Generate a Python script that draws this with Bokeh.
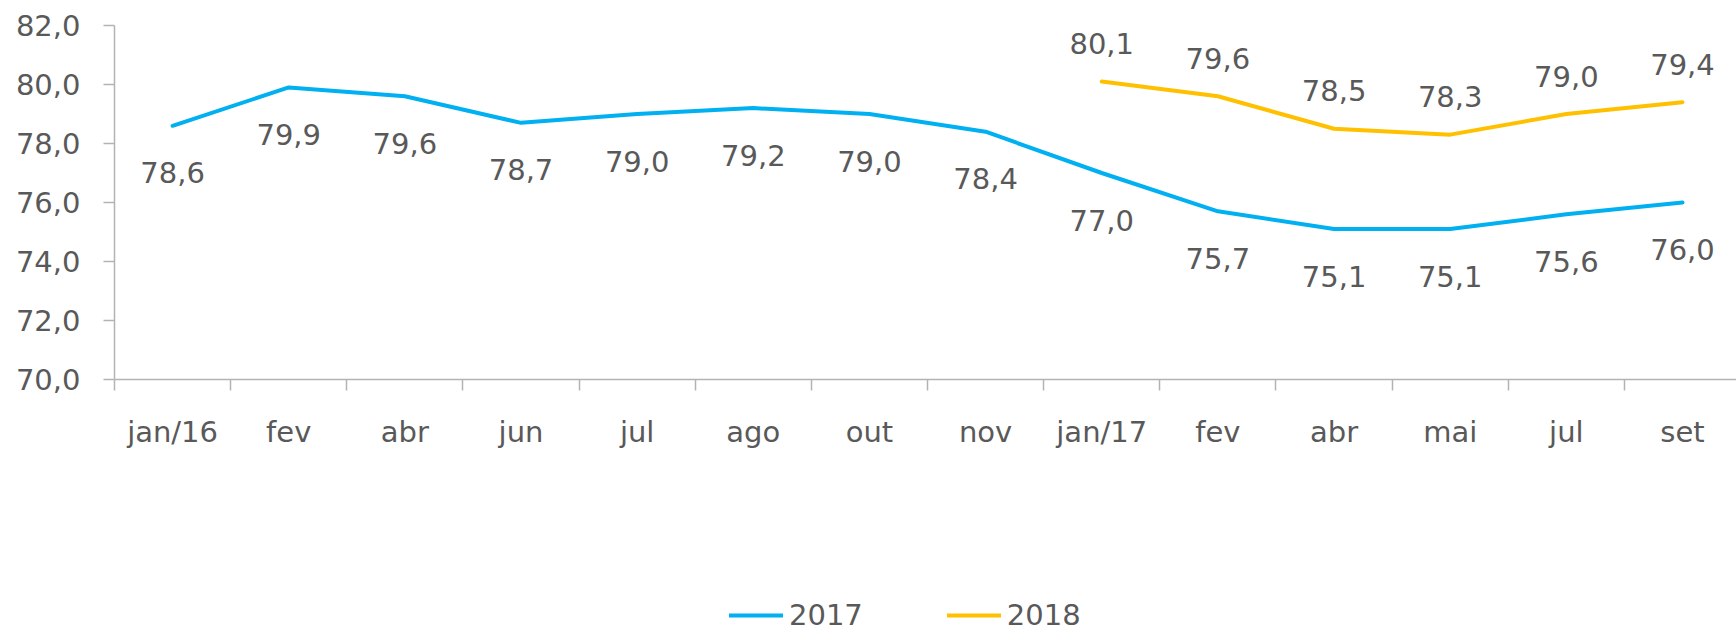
from bokeh.plotting import figure
from bokeh.layouts import column
from bokeh.models import ColumnDataSource, FixedTicker, Legend, LegendItem
from bokeh.core.properties import value
from bokeh.embed import file_html
from bokeh.resources import INLINE

categories = ["jan/16", "fev", "abr", "jun", "jul", "ago", "out", "nov",
              "jan/17", "fev", "abr", "mai", "jul", "set"]
s2017 = [78.6, 79.9, 79.6, 78.7, 79.0, 79.2, 79.0, 78.4, 77.0, 75.7, 75.1, 75.1, 75.6, 76.0]
s2018_start = 8
s2018 = [80.1, 79.6, 78.5, 78.3, 79.0, 79.4]
y_ticks = [70, 72, 74, 76, 78, 80, 82]
y_tick_labels = ["70,0", "72,0", "74,0", "76,0", "78,0", "80,0", "82,0"]
series_names = ["2017", "2018"]

FONT = "DejaVu Sans"
FS = "29px"
TXT = "#595959"
AX = "#B3B3B3"
BLUE = "#00B0F0"
ORANGE = "#FFC000"

def fmt(v):
    return f"{v:.1f}".replace(".", ",")

x17 = list(range(len(s2017)))
x18 = [s2018_start + i for i in range(len(s2018))]
src17 = ColumnDataSource(dict(x=x17, y=s2017, t=[fmt(v) for v in s2017]))
src18 = ColumnDataSource(dict(x=x18, y=s2018, t=[fmt(v) for v in s2018]))

p = figure(width=1736, height=595, output_backend="svg", toolbar_location=None,
           x_range=(-0.5, 13.465), y_range=(70, 82),
           min_border_left=114, min_border_top=25, min_border_right=0, min_border_bottom=216)
p.outline_line_color = None
p.grid.visible = False

p.line("x", "y", source=src17, line_color=BLUE, line_width=4, line_join="round", line_cap="round")
p.line("x", "y", source=src18, line_color=ORANGE, line_width=4, line_join="round", line_cap="round")

p.text("x", "y", text="t", source=src17, text_font=value(FONT), text_font_size=FS,
       text_color=TXT, text_align="center", text_baseline="middle", y_offset=47)
p.text("x", "y", text="t", source=src18, text_font=value(FONT), text_font_size=FS,
       text_color=TXT, text_align="center", text_baseline="middle", y_offset=-38)

# x axis
centers = list(range(len(categories)))
bounds = [c - 0.5 for c in centers] + [len(categories) - 0.5]
p.xaxis.ticker = FixedTicker(ticks=centers, minor_ticks=bounds)
p.xaxis.major_label_overrides = {c: lab for c, lab in zip(centers, categories)}
p.xaxis.major_tick_out = 0
p.xaxis.major_tick_in = 0
p.xaxis.minor_tick_out = 11
p.xaxis.minor_tick_in = 0
p.xaxis.major_label_standoff = 24
p.xaxis.axis_line_color = AX
p.xaxis.axis_line_width = 1.5
p.xaxis.minor_tick_line_color = AX
p.xaxis.minor_tick_line_width = 1.5
p.xaxis.major_label_text_font = FONT
p.xaxis.major_label_text_font_size = FS
p.xaxis.major_label_text_color = TXT

# y axis
p.yaxis.ticker = FixedTicker(ticks=y_ticks, minor_ticks=[])
p.yaxis.major_label_overrides = {t: lab for t, lab in zip(y_ticks, y_tick_labels)}
p.yaxis.major_tick_out = 11
p.yaxis.major_tick_in = 0
p.yaxis.axis_line_color = AX
p.yaxis.axis_line_width = 1.5
p.yaxis.major_tick_line_color = AX
p.yaxis.major_tick_line_width = 1.5
p.yaxis.major_label_standoff = 23
p.yaxis.major_label_text_font = FONT
p.yaxis.major_label_text_font_size = FS
p.yaxis.major_label_text_color = TXT

# legend strip (its frame is aligned with the main plot's frame by the column layout;
# the series are drawn outside its ranges, so only the legend shows)
p2 = figure(width=1736, height=37, output_backend="svg", toolbar_location=None,
            x_axis_type=None, y_axis_type=None, x_range=(0, 1), y_range=(0, 1),
            min_border_left=0, min_border_right=0, min_border_top=0, min_border_bottom=0)
p2.outline_line_color = None
p2.grid.visible = False
l17 = p2.line("x", "y", source=src17, line_color=BLUE, line_width=4, line_cap="round")
l18 = p2.line("x", "y", source=src18, line_color=ORANGE, line_width=4, line_cap="round")
legend = Legend(items=[LegendItem(label=series_names[0], renderers=[l17]),
                       LegendItem(label=series_names[1], renderers=[l18])],
                orientation="horizontal", location=(615, 0),
                glyph_width=54, glyph_height=28, label_height=28, label_standoff=6, spacing=84,
                padding=0, margin=0, border_line_color=None, background_fill_alpha=0,
                label_text_font=FONT, label_text_font_size=FS, label_text_color=TXT)
p2.add_layout(legend, "center")

layout = column(p, p2, spacing=0)
open("out.html", "w").write(file_html(layout, INLINE))
